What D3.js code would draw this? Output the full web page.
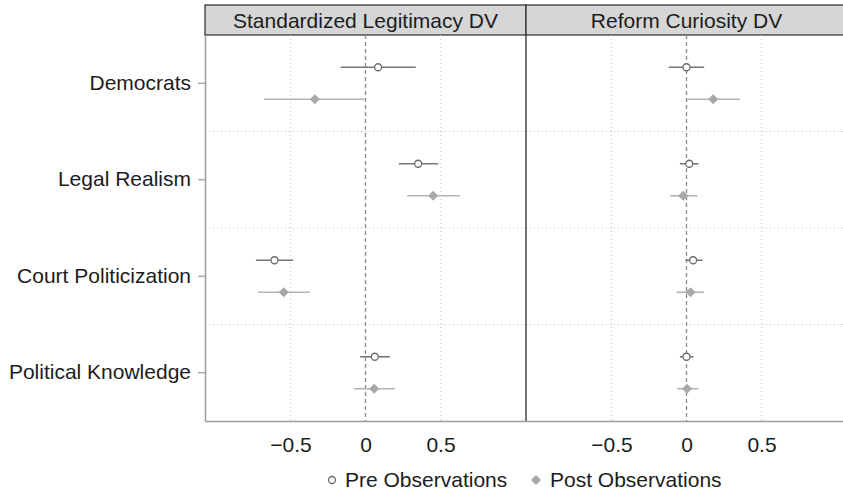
<!DOCTYPE html>
<html>
<head>
<meta charset="utf-8">
<script src="https://cdn.jsdelivr.net/npm/d3@7"></script>
<style>
  body { margin: 0; background: #fff; }
  svg { display: block; font-family: "Liberation Sans", Arial, sans-serif; }
</style>
</head>
<body>
<svg id="chart" width="843" height="494"></svg>
<script>
// data
const categories = ['Democrats', 'Legal Realism', 'Court Politicization', 'Political Knowledge']
const panels = ['Standardized Legitimacy DV', 'Reform Curiosity DV']
const xTicks = [-0.5, 0, 0.5]

// [estimate, low, high] per category, one array per panel and series
const legitPre = [[0.084, -0.165, 0.335], [0.351, 0.222, 0.484], [-0.607, -0.731, -0.482], [0.062, -0.036, 0.162]]
const legitPost = [[-0.338, -0.676, -0.005], [0.451, 0.278, 0.629], [-0.545, -0.716, -0.371], [0.058, -0.076, 0.196]]
const curioPre = [[0.0, -0.118, 0.118], [0.018, -0.044, 0.08], [0.044, -0.007, 0.107], [0.0, -0.044, 0.047]]
const curioPost = [[0.178, 0.0, 0.355], [-0.022, -0.111, 0.073], [0.027, -0.067, 0.115], [0.004, -0.062, 0.08]]

const seriesByPanel = [[legitPre, legitPost], [curioPre, curioPost]]

const margin = { left: 205, top: 35, bottom: 73 }
const size = { width: 843, height: 494 }
const panelW = 321
const stripH = 30
const plotBottom = size.height - margin.bottom

const pal = {
  pre: '#6a6a6a', preLine: '#777777',
  post: '#a8a8a8', postLine: '#b3b3b3',
  axis: '#9a9a9a', dark: '#2a2a2a', strip: '#d6d6d6', grid: '#c8c8c8',
  text: '#1c1c1c'
}

const fmt = d => d === 0 ? '0' : d3.format('.1f')(d).replace('-', '–')

const svg = d3.select('#chart')

const y = d3.scaleBand()
  .domain(categories)
  .range([margin.top, plotBottom])
const off = 16

panels.forEach((title, p) => {
  const x0 = margin.left + p * panelW
  const x = d3.scaleLinear().domain([-1.07, 1.07]).range([x0, x0 + panelW])
  const g = svg.append('g')

  // strip
  g.append('rect')
    .attr('x', x0).attr('y', margin.top - stripH)
    .attr('width', panelW).attr('height', stripH)
    .attr('fill', pal.strip).attr('stroke', pal.dark).attr('stroke-width', 1.2)
  g.append('text')
    .attr('x', x0 + panelW / 2).attr('y', margin.top - stripH / 2)
    .attr('dy', '0.36em').attr('text-anchor', 'middle')
    .attr('font-size', 21).attr('fill', pal.text)
    .text(title)

  // vertical grid
  g.selectAll('.vgrid')
    .data(xTicks.filter(d => d !== 0))
    .enter().append('line')
    .attr('x1', d => x(d)).attr('x2', d => x(d))
    .attr('y1', margin.top).attr('y2', plotBottom)
    .attr('stroke', pal.grid).attr('stroke-dasharray', '1,3')

  // horizontal separators between groups
  g.selectAll('.hgrid')
    .data(categories.slice(1))
    .enter().append('line')
    .attr('x1', x0).attr('x2', x0 + panelW)
    .attr('y1', d => y(d)).attr('y2', d => y(d))
    .attr('stroke', '#b8b8b8').attr('stroke-dasharray', '1,3')

  // zero reference line
  g.append('line')
    .attr('x1', x(0)).attr('x2', x(0))
    .attr('y1', margin.top).attr('y2', plotBottom)
    .attr('stroke', '#8a8a8a').attr('stroke-width', 1.3)
    .attr('stroke-dasharray', '4,3')

  // bottom axis
  const xAxis = d3.axisBottom(x).tickValues(xTicks).tickFormat(fmt).tickSize(0).tickPadding(16)
  const ax = g.append('g')
    .attr('transform', `translate(0, ${plotBottom})`)
    .call(xAxis)
  ax.select('.domain').attr('stroke', pal.axis).attr('stroke-width', 1.5)
  ax.selectAll('text').attr('font-size', 21).attr('fill', pal.text)
    .attr('font-family', '"Liberation Sans", Arial, sans-serif')

  // CIs and points
  const [pre, post] = seriesByPanel[p]
  const yc = c => y(c) + y.bandwidth() / 2

  g.selectAll('.preci')
    .data(pre)
    .enter().append('line')
    .attr('x1', d => x(d[1])).attr('x2', d => x(d[2]))
    .attr('y1', (d, i) => yc(categories[i]) - off).attr('y2', (d, i) => yc(categories[i]) - off)
    .attr('stroke', pal.preLine).attr('stroke-width', 1.6)

  g.selectAll('.postci')
    .data(post)
    .enter().append('line')
    .attr('x1', d => x(d[1])).attr('x2', d => x(d[2]))
    .attr('y1', (d, i) => yc(categories[i]) + off).attr('y2', (d, i) => yc(categories[i]) + off)
    .attr('stroke', pal.postLine).attr('stroke-width', 1.6)

  g.selectAll('.prept')
    .data(pre)
    .enter().append('circle')
    .attr('cx', d => x(d[0])).attr('cy', (d, i) => yc(categories[i]) - off)
    .attr('r', 3.5)
    .attr('fill', '#fff').attr('stroke', pal.pre).attr('stroke-width', 1.3)

  g.selectAll('.postpt')
    .data(post)
    .enter().append('path')
    .attr('transform', (d, i) => `translate(${x(d[0])}, ${yc(categories[i]) + off}) rotate(45)`)
    .attr('d', d3.symbol(d3.symbolSquare, 50))
    .attr('fill', pal.post)
})

// y axis on left panel
const yAxis = d3.axisLeft(y).tickSizeInner(7).tickSizeOuter(0).tickPadding(7)
const ay = svg.append('g')
  .attr('transform', `translate(${margin.left}, 0)`)
  .call(yAxis)
ay.select('.domain').attr('stroke', pal.axis).attr('stroke-width', 1.5)
ay.selectAll('.tick line').attr('stroke', pal.axis).attr('stroke-width', 1.2)
ay.selectAll('text').attr('font-size', 21).attr('fill', pal.text)
  .attr('font-family', '"Liberation Sans", Arial, sans-serif')

// separator between panels
svg.append('line')
  .attr('x1', margin.left + panelW).attr('x2', margin.left + panelW)
  .attr('y1', margin.top).attr('y2', plotBottom)
  .attr('stroke', pal.dark).attr('stroke-width', 1.3)

// legend
const leg = svg.append('g').attr('transform', `translate(0, 480)`)
leg.append('circle').attr('cx', 332).attr('cy', 0).attr('r', 3.5)
  .attr('fill', '#fff').attr('stroke', pal.pre).attr('stroke-width', 1.3)
leg.append('text').attr('x', 345).attr('y', 0).attr('dy', '0.35em')
  .attr('font-size', 21).attr('fill', pal.text).text('Pre Observations')
leg.append('path').attr('transform', 'translate(536, 0) rotate(45)')
  .attr('d', d3.symbol(d3.symbolSquare, 50)).attr('fill', pal.post)
leg.append('text').attr('x', 550).attr('y', 0).attr('dy', '0.35em')
  .attr('font-size', 21).attr('fill', pal.text).text('Post Observations')
</script>
</body>
</html>
